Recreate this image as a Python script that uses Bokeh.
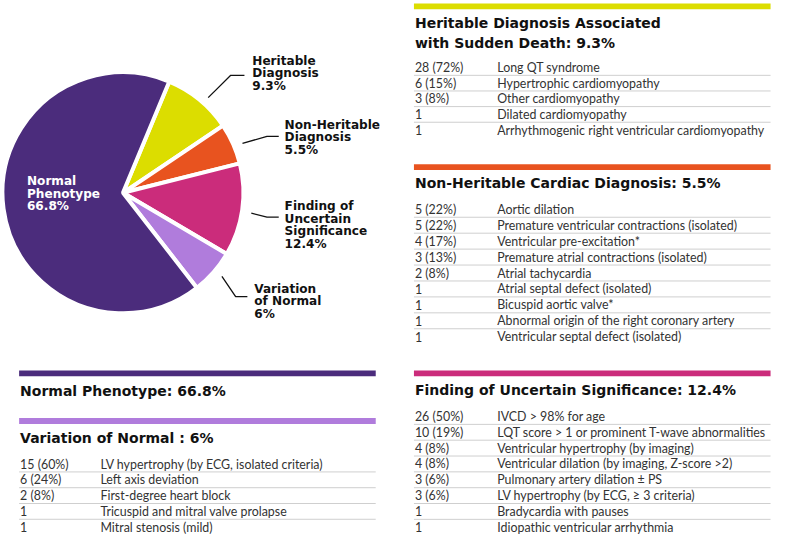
import math
from bokeh.plotting import figure
from bokeh.models import Range1d, ColumnDataSource
from bokeh.core.properties import value
from bokeh.embed import file_html
from bokeh.resources import INLINE

# ---------------- data ----------------
slice_names = ["Heritable Diagnosis", "Non-Heritable Diagnosis",
               "Finding of Uncertain Significance", "Variation of Normal",
               "Normal Phenotype"]
slice_pcts = [9.3, 5.5, 12.4, 6.0, 66.8]
slice_colors = ["#dcdd00", "#e8531f", "#cb2c7b", "#b07cdc", "#4b2c7c"]
slice_label_lines = [["Heritable", "Diagnosis", "9.3%"],
                     ["Non-Heritable", "Diagnosis", "5.5%"],
                     ["Finding of", "Uncertain", "Significance", "12.4%"],
                     ["Variation", "of Normal", "6%"],
                     ["Normal", "Phenotype", "66.8%"]]

her_title = ["Heritable Diagnosis Associated", "with Sudden Death: 9.3%"]
her_counts = ["28 (72%)", "6 (15%)", "3 (8%)", "1", "1"]
her_items = ["Long QT syndrome", "Hypertrophic cardiomyopathy", "Other cardiomyopathy",
             "Dilated cardiomyopathy", "Arrhythmogenic right ventricular cardiomyopathy"]

nonher_title = ["Non-Heritable Cardiac Diagnosis: 5.5%"]
nonher_counts = ["5 (22%)", "5 (22%)", "4 (17%)", "3 (13%)", "2 (8%)", "1", "1", "1", "1"]
nonher_items = ["Aortic dilation", "Premature ventricular contractions (isolated)",
                "Ventricular pre-excitation*", "Premature atrial contractions (isolated)",
                "Atrial tachycardia", "Atrial septal defect (isolated)",
                "Bicuspid aortic valve*", "Abnormal origin of the right coronary artery",
                "Ventricular septal defect (isolated)"]

normal_title = ["Normal Phenotype: 66.8%"]

var_title = ["Variation of Normal : 6%"]
var_counts = ["15 (60%)", "6 (24%)", "2 (8%)", "1", "1"]
var_items = ["LV hypertrophy (by ECG, isolated criteria)", "Left axis deviation",
             "First-degree heart block", "Tricuspid and mitral valve prolapse",
             "Mitral stenosis (mild)"]

fus_title = ["Finding of Uncertain Significance: 12.4%"]
fus_counts = ["26 (50%)", "10 (19%)", "4 (8%)", "4 (8%)", "3 (6%)", "3 (6%)", "1", "1"]
fus_items = ["IVCD > 98% for age", "LQT score > 1 or prominent T-wave abnormalities",
             "Ventricular hypertrophy (by imaging)", "Ventricular dilation (by imaging, Z-score >2)",
             "Pulmonary artery dilation \u00b1 PS", "LV hypertrophy (by ECG, \u2265 3 criteria)",
             "Bradycardia with pauses", "Idiopathic ventricular arrhythmia"]

# ---------------- layout ----------------
W, H = 789, 555
BODY = value("Lato")
BOLD = value("DejaVu Sans")
FS = 0.975


def Y(y):
    return H - y


def fs(px):
    return "%.1fpx" % (px * FS)


p = figure(width=773, height=539, output_backend="svg", toolbar_location=None,
           x_range=Range1d(0, W), y_range=Range1d(0, H), min_border=0)
p.axis.visible = False
p.grid.visible = False
p.outline_line_color = None
p.background_fill_color = "white"

# ---- pie ----
cx, cy, R = 125, 198, 123
a0 = math.radians(67.4)
starts, ends = [], []
cum = 0.0
for pct in slice_pcts:
    a_hi = a0 - cum / 100 * 2 * math.pi
    a_lo = a_hi - pct / 100 * 2 * math.pi
    starts.append(a_lo)
    ends.append(a_hi)
    cum += pct
pie_src = ColumnDataSource(dict(x=[cx] * 5, y=[Y(cy)] * 5, start=starts, end=ends,
                                color=slice_colors, name=slice_names))
p.wedge(x="x", y="y", radius=R, start_angle="start", end_angle="end",
        fill_color="color", line_color="white", line_width=4, source=pie_src)

# pie labels
label_pos = [(257, 62), (290, 128), (290, 212), (259, 297), (27, 186)]
label_col = ["#111111"] * 4 + ["#ffffff"]
lx, ly, lt, lc = [], [], [], []
for (x0, y0), lines, col in zip(label_pos, slice_label_lines, label_col):
    for i, s in enumerate(lines):
        lx.append(x0)
        ly.append(Y(y0 + i * 12.8))
        lt.append(s)
        lc.append(col)
p.text(x=lx, y=ly, text=lt, text_color=lc, text_font=BOLD, text_font_size=fs(12.4),
       text_font_style="bold", text_baseline="middle", text_align="left")

# leader lines
leaders = [[(212, 100), (235, 77), (249, 77)],
           [(247, 147), (272, 140), (284, 140)],
           [(256, 219), (272, 223), (284, 223)],
           [(226, 284), (240, 305), (252, 305)]]
p.multi_line(xs=[[a for a, b in L] for L in leaders],
             ys=[[Y(b) for a, b in L] for L in leaders],
             line_color="#111111", line_width=1.3)


# ---- tables ----
def table(x0, x1, bar_y, bar_color, title_lines, title_y, counts=None, items=None,
          row_y0=0, row_step=16.3, desc_x=0):
    p.quad(left=[x0], right=[x1], top=[Y(bar_y - 3)], bottom=[Y(bar_y + 3)],
           fill_color=bar_color, line_color=None)
    p.text(x=[x0 + 1] * len(title_lines),
           y=[Y(title_y + i * 21) for i in range(len(title_lines))],
           text=title_lines, text_color="#111111", text_font=BOLD,
           text_font_size=fs(14.4), text_font_style="bold",
           text_baseline="middle", text_align="left")
    if counts:
        n = len(counts)
        ys = [Y(row_y0 + i * row_step) for i in range(n)]
        p.text(x=[x0 + 1] * n, y=ys, text=counts, text_color="#333333", text_font=BODY,
               text_font_size=fs(12.75), text_baseline="middle", text_align="left")
        p.text(x=[desc_x] * n, y=ys, text=items, text_color="#333333", text_font=BODY,
               text_font_size=fs(12.75), text_baseline="middle", text_align="left")
        sy = [Y(row_y0 + i * row_step + row_step / 2) for i in range(n - 1)]
        p.segment(x0=[x0] * (n - 1), x1=[x1] * (n - 1), y0=sy, y1=sy,
                  line_color="#cfcfcf", line_width=1)


table(422, 786, 6, slice_colors[0], her_title, 23, her_counts, her_items, 69, 16.1, 507)
table(422, 786, 171.5, slice_colors[1], nonher_title, 188, nonher_counts, nonher_items,
      215, 16.4, 507)
table(19, 383, 384, slice_colors[4], normal_title, 402)
table(19, 383, 433, slice_colors[3], var_title, 450, var_counts, var_items, 477.3, 16.25, 102)
table(422, 786, 384, slice_colors[2], fus_title, 401, fus_counts, fus_items, 428.3, 16.3, 507)

open("out.html", "w").write(file_html(p, INLINE))
